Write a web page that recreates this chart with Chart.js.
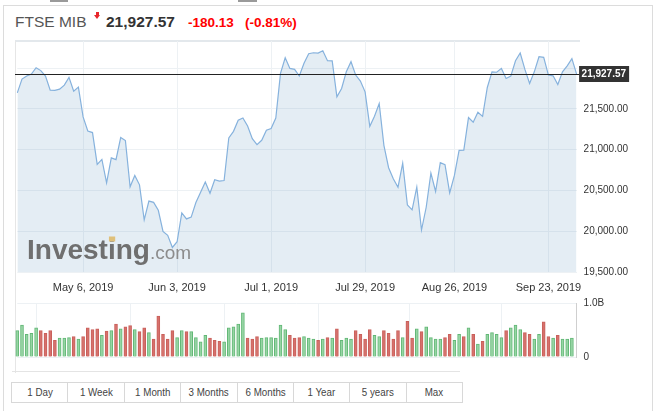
<!DOCTYPE html>
<html>
<head>
<meta charset="utf-8">
<script src="https://cdn.jsdelivr.net/npm/chart.js@4.4.0/dist/chart.umd.min.js"></script>
<style>
  body { margin: 0; width: 658px; height: 411px; background: #fff; overflow: hidden; position: relative;
         font-family: Arial, "Liberation Sans", sans-serif; }
  .abs { position: absolute; }
  #outer { left: 3px; top: 5px; width: 648px; height: 420px; border: 1px solid #dcdcdc; border-bottom: none; }
  .tab { top: 0; height: 2px; background: #9a9a9a; }
  #pane { left: 15px; top: 40px; width: 564px; height: 331px; border-top: 2px solid #e3e8ec; border-left: 1px solid #e6e6e6; }
  #baseLine { left: 12px; top: 371px; width: 448px; height: 1px; background: #e4e4e4; }
  .hdr { line-height: 1; white-space: nowrap; }
  #name { left: 15px; top: 14.2px; font-size: 15.5px; color: #555; }
  #last { left: 106px; top: 14.2px; font-size: 15.5px; font-weight: bold; color: #333; }
  #chg  { left: 188px; top: 15.9px; font-size: 13.5px; font-weight: bold; color: #f00; }
  #pct  { left: 245px; top: 15.9px; font-size: 13.5px; font-weight: bold; color: #f00; }
  #arrowStem { left: 96px; top: 12px; width: 3px; height: 3px; background: #e8262b; }
  #arrowHead { left: 94px; top: 15px; width: 0; height: 0; border-left: 3.5px solid transparent;
               border-right: 3.5px solid transparent; border-top: 4.5px solid #e8262b; }
  #priceChart { left: 0; top: 0; }
  #volChart { left: 0; top: 290px; }
  #ranges { left: 11px; top: 382px; width: 452px; height: 21px; display: flex; border: 1px solid #d8d8d8; box-sizing: border-box; }
  #ranges div { flex: 1; border-right: 1px solid #d8d8d8; text-align: center; line-height: 19px; font-size: 11.5px; color: #444; }
  #ranges div:last-child { border-right: none; }
  #ranges span { display: inline-block; transform: scaleX(0.85); }
</style>
</head>
<body>
<div id="outer" class="abs"></div>
<div class="abs tab" style="left:50px;width:18px"></div>
<div class="abs tab" style="left:238px;width:19px"></div>
<div id="pane" class="abs"></div>
<div id="baseLine" class="abs"></div>

<div id="name" class="abs hdr">FTSE MIB</div>
<div id="arrowStem" class="abs"></div>
<div id="arrowHead" class="abs"></div>
<div id="last" class="abs hdr">21,927.57</div>
<div id="chg" class="abs hdr">-180.13</div>
<div id="pct" class="abs hdr">(-0.81%)</div>

<canvas id="priceChart" class="abs" width="658" height="300"></canvas>
<canvas id="volChart" class="abs" width="658" height="80"></canvas>

<div id="ranges" class="abs">
  <div><span>1 Day</span></div><div><span>1 Week</span></div><div><span>1 Month</span></div>
  <div><span>3 Months</span></div><div><span>6 Months</span></div><div><span>1 Year</span></div>
  <div><span>5 years</span></div><div><span>Max</span></div>
</div>

<script>
/*--------------------------------------------------------------------
FTSE MIB daily close, Apr - Oct 2019
--------------------------------------------------------------------*/
const closes = [
    21697, 21866, 21903, 21927, 22005, 21970, 21903, 21730, 21727, 21743,
    21792, 21887, 21718, 21767, 21402, 21229, 21210, 20819, 20881, 20594,
    20899, 20878, 21149, 21112, 20545, 20684, 20569, 20139, 20370, 20354,
    20257, 19998, 19950, 19801, 19871, 20225, 20151, 20173, 20352, 20478,
    20604, 20466, 20631, 20614, 20622, 21145, 21225, 21361, 21389, 21290,
    21136, 21062, 21115, 21238, 21259, 21389, 21936, 22128, 21997, 21985,
    21903, 22059, 22177, 22189, 22185, 22214, 22091, 22090, 21648, 21751,
    21955, 22079, 21915, 21841, 21709, 21287, 21410, 21566, 21053, 20779,
    20643, 20540, 20835, 20323, 20262, 20540, 20015, 20294, 20712, 20487,
    20841, 20816, 20471, 20684, 20992, 20995, 21394, 21336, 21459, 21408,
    21763, 21955, 21950, 21997, 21874, 21903, 22091, 22186, 21985, 21813,
    21955, 22140, 22133, 21915, 21906, 21800, 21955, 22029, 22116, 21927.57
];

// volume in billions; last session has no bar yet
const volumes = [
    0.49, 0.59, 0.42, 0.44, 0.54, 0.49, 0.44, 0.49, 0.31, 0.35,
    0.35, 0.36, 0.38, 0.33, 0.38, 0.54, 0.51, 0.52, 0.40, 0.48,
    0.49, 0.61, 0.52, 0.56, 0.58, 0.51, 0.47, 0.54, 0.45, 0.33,
    0.76, 0.42, 0.33, 0.49, 0.36, 0.49, 0.47, 0.47, 0.36, 0.28,
    0.40, 0.35, 0.31, 0.29, 0.28, 0.54, 0.56, 0.61, 0.82, 0.35,
    0.33, 0.38, 0.35, 0.36, 0.36, 0.35, 0.59, 0.51, 0.40, 0.35,
    0.36, 0.38, 0.35, 0.33, 0.31, 0.33, 0.36, 0.35, 0.52, 0.31,
    0.35, 0.33, 0.49, 0.42, 0.33, 0.51, 0.40, 0.38, 0.49, 0.44,
    0.33, 0.49, 0.36, 0.66, 0.35, 0.52, 0.47, 0.56, 0.36, 0.33,
    0.33, 0.36, 0.42, 0.31, 0.42, 0.38, 0.54, 0.42, 0.24, 0.29,
    0.42, 0.45, 0.42, 0.36, 0.49, 0.54, 0.59, 0.51, 0.45, 0.42,
    0.33, 0.42, 0.65, 0.38, 0.35, 0.40, 0.33, 0.33, 0.35, null
];

// 1 = up session (green bar), 0 = down session (red bar)
const upDays = [
    1, 1, 1, 1, 1, 0, 0, 0, 0, 1,
    1, 1, 0, 1, 0, 0, 0, 0, 1, 0,
    1, 0, 1, 0, 0, 1, 0, 0, 1, 0,
    0, 0, 0, 0, 1, 1, 0, 1, 1, 1,
    1, 0, 0, 0, 1, 1, 1, 1, 1, 0,
    0, 0, 1, 1, 1, 1, 1, 1, 0, 0,
    0, 1, 1, 1, 0, 1, 0, 1, 0, 1,
    1, 1, 0, 0, 0, 0, 1, 1, 0, 0,
    0, 0, 1, 0, 0, 1, 0, 1, 1, 1,
    1, 0, 0, 1, 1, 0, 1, 0, 1, 0,
    1, 1, 1, 1, 0, 1, 1, 1, 0, 0,
    1, 1, 0, 0, 1, 0, 1, 1, 1, 0
];

const tickIndex = [14, 34, 54, 74, 93, 113];
const tickLabels = ["May 6, 2019", "Jun 3, 2019", "Jul 1, 2019", "Jul 29, 2019", "Aug 26, 2019", "Sep 23, 2019"];
const priceTicks = [19500, 20000, 20500, 21000, 21500, 22000];
const volumeTicks = [0, 1];

const lastPrice = closes[closes.length - 1];
const labels = closes.map((_, i) => i);

const FONT = 'Arial, "Liberation Sans", sans-serif';
const PLOT_LEFT = 17.3;
const AXIS_W = 658 - 576.6;
const GRID = "#edf1f4";

const fmt = v => v.toLocaleString("en-US", {minimumFractionDigits: 2, maximumFractionDigits: 2});

/*--------------------------------------------------------------------
Plugins: watermark + last price marker
--------------------------------------------------------------------*/
const watermark = {
    id: "watermark",
    afterDatasetsDraw(chart) {
        const ctx = chart.ctx;
        ctx.save();
        ctx.textBaseline = "alphabetic";
        ctx.font = "bold 28px " + FONT;
        ctx.fillStyle = "#6f6f6f";
        const x0 = 27, base = 259;
        ctx.fillText("Investing", x0, base);
        const w = ctx.measureText("Investing").width;
        const iX = x0 + ctx.measureText("Invest").width;
        const iW = ctx.measureText("i").width;
        ctx.fillStyle = "#dfc07a";
        ctx.fillRect(iX + 1, 236.5, iW - 1.5, 5);
        ctx.font = "19px " + FONT;
        ctx.fillStyle = "#8c8c8c";
        ctx.fillText(".com", x0 + w, base);
        ctx.restore();
    }
};

const lastMarker = {
    id: "lastMarker",
    afterDraw(chart) {
        const ctx = chart.ctx;
        const y = Math.round(chart.scales.y.getPixelForValue(lastPrice)) + 0.5;
        const right = chart.chartArea.right;
        ctx.save();
        ctx.strokeStyle = "#222";
        ctx.lineWidth = 1;
        ctx.beginPath();
        ctx.moveTo(15, y);
        ctx.lineTo(right + 3, y);
        ctx.stroke();
        ctx.fillStyle = "#333";
        ctx.fillRect(right + 2.5, y - 8.5, 50, 16);
        ctx.fillStyle = "#fff";
        ctx.font = "bold 10px " + FONT;
        ctx.textBaseline = "middle";
        ctx.fillText(fmt(lastPrice), right + 5, y);
        ctx.restore();
    }
};

function dateTicks(scale) {
    scale.ticks = tickIndex.map(v => ({value: v}));
}

/*--------------------------------------------------------------------
Price pane
--------------------------------------------------------------------*/
new Chart(document.getElementById("priceChart"), {
    type: "line",
    data: {
        labels: labels,
        datasets: [{
            data: closes,
            borderColor: "#86b2dd",
            borderWidth: 1.2,
            backgroundColor: "rgba(120, 165, 200, 0.2)",
            fill: "start",
            pointRadius: 0,
            tension: 0
        }]
    },
    options: {
        responsive: false,
        animation: false,
        layout: {padding: {left: PLOT_LEFT, top: 41, right: 0, bottom: 0}},
        plugins: {legend: {display: false}, tooltip: {enabled: false}},
        scales: {
            x: {
                type: "category",
                offset: false,
                z: 1,
                afterBuildTicks: dateTicks,
                afterFit: s => { s.height = 28; },
                grid: {color: GRID, drawTicks: false},
                border: {display: false},
                ticks: {
                    autoSkip: false, maxRotation: 0, padding: 9,
                    color: "#333", font: {family: FONT, size: 11},
                    callback: v => tickLabels[tickIndex.indexOf(v)]
                }
            },
            y: {
                position: "right",
                min: 19500,
                max: 22333,
                z: 1,
                afterBuildTicks: s => { s.ticks = priceTicks.map(v => ({value: v})); },
                afterFit: s => { s.width = AXIS_W; },
                grid: {color: GRID, drawTicks: false},
                border: {display: false},
                ticks: {
                    padding: 7, color: "#333", font: {family: FONT, size: 10},
                    callback: v => (v === 22000 ? "" : fmt(v))
                }
            }
        }
    },
    plugins: [watermark, lastMarker]
});

/*--------------------------------------------------------------------
Volume pane
--------------------------------------------------------------------*/
new Chart(document.getElementById("volChart"), {
    type: "bar",
    data: {
        labels: labels,
        datasets: [{
            data: volumes,
            backgroundColor: upDays.map(u => (u ? "#97d5a4" : "#d6716c")),
            borderColor: upDays.map(u => (u ? "#62b776" : "#c9605b")),
            borderWidth: 1,
            barThickness: 3,
            clip: false
        }]
    },
    options: {
        responsive: false,
        animation: false,
        layout: {padding: {left: PLOT_LEFT, top: 10.7, right: 0, bottom: 11.3}},
        plugins: {legend: {display: false}, tooltip: {enabled: false}},
        scales: {
            x: {
                type: "category",
                offset: false,
                afterBuildTicks: dateTicks,
                afterFit: s => { s.height = 0; },
                grid: {color: GRID, drawTicks: false},
                border: {display: false},
                ticks: {display: false}
            },
            y: {
                position: "right",
                min: 0,
                max: 1,
                afterBuildTicks: s => { s.ticks = volumeTicks.map(v => ({value: v})); },
                afterFit: s => { s.width = AXIS_W; },
                grid: {color: GRID, drawTicks: false},
                border: {display: true, color: "#cfcfcf"},
                ticks: {
                    padding: 7, color: "#333", font: {family: FONT, size: 10},
                    callback: v => (v === 1 ? "1.0B" : "0")
                }
            }
        }
    }
});
</script>
</body>
</html>
